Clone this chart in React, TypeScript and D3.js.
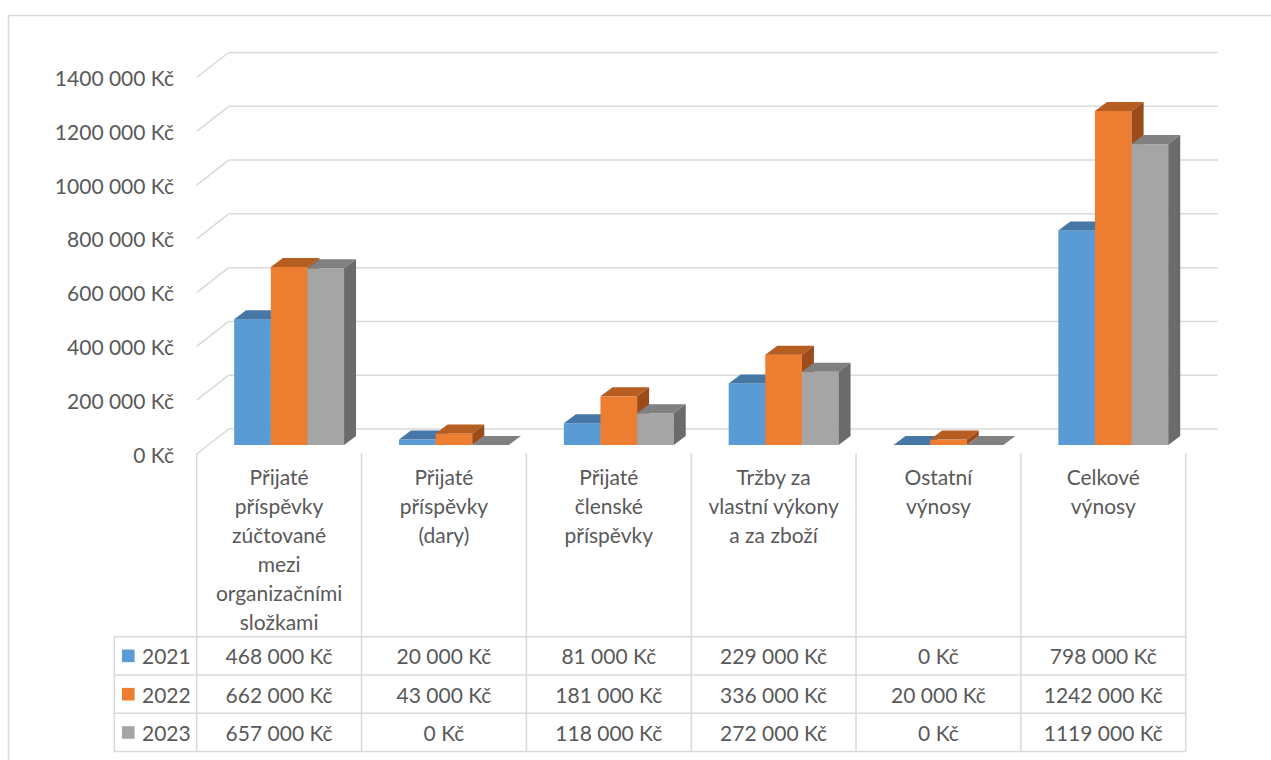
import React from "react";
import * as d3 from "d3";

// category labels, already split into the lines shown under each group
const categories = [
  ["Přijaté", "příspěvky", "zúčtované", "mezi", "organizačními", "složkami"],
  ["Přijaté", "příspěvky", "(dary)"],
  ["Přijaté", "členské", "příspěvky"],
  ["Tržby za", "vlastní výkony", "a za zboží"],
  ["Ostatní", "výnosy"],
  ["Celkové", "výnosy"],
];

const years = ["2021", "2022", "2023"];
const values2021 = [468000, 20000, 81000, 229000, 0, 798000];
const values2022 = [662000, 43000, 181000, 336000, 20000, 1242000];
const values2023 = [657000, 0, 118000, 272000, 0, 1119000];
const series = [values2021, values2022, values2023];

const yTicks = [0, 200000, 400000, 600000, 800000, 1000000, 1200000, 1400000];

// front / top / side colours per year
const faceColors = [
  { front: "#5B9BD5", top: "#4677A6", side: "#3F6B96" },
  { front: "#ED7D31", top: "#B65E22", side: "#9C4C1A" },
  { front: "#A5A5A5", top: "#808080", side: "#6B6B6B" },
];

const W = 1271;
const H = 760;
const font = "Lato, 'Open Sans', sans-serif";
const textColor = "#595959";
const lineColor = "#D9D9D9";

const fmt = (v: number) =>
  v >= 1000
    ? `${Math.floor(v / 1000)} ${String(v % 1000).padStart(3, "0")} Kč`
    : `${v} Kč`;

const App: React.FC = () => {
  // back wall
  const backX0 = 228.7;
  const backX1 = 1217.7;
  const wallDx = -32;
  const wallDy = 25;

  const y = d3.scaleLinear().domain([0, 1400000]).range([429, 52.5]);

  const xCat = d3
    .scaleBand<number>()
    .domain(categories.map((_, i) => i))
    .range([backX0, backX1])
    .padding(0);

  const xYear = d3
    .scaleBand<string>()
    .domain(years)
    .range([0, xCat.bandwidth()])
    .paddingInner(0)
    .paddingOuter(0.75);

  // bar front face offset from the back wall, and bar depth
  const fx = -22;
  const fy = 16;
  const bdx = 12;
  const bdy = -9;

  // data table
  const tableLeft = 114.3;
  const colX = (i: number) => (xCat(i) || 0) + wallDx;
  const tableRight = colX(categories.length - 1) + xCat.bandwidth();
  const headerTop = y(0) + wallDy - 1;
  const tableTop = 636.7;
  const rowH = 38.3;

  const bars: React.ReactNode[] = [];
  categories.forEach((_, i) => {
    years.forEach((yr, j) => {
      const v = series[j][i];
      const c = faceColors[j];
      const w = xYear.bandwidth();
      const xf = (xCat(i) || 0) + (xYear(yr) || 0) + fx;
      const yt = y(v) + fy;
      const yb = y(0) + fy;
      bars.push(
        <g key={`${i}-${j}`}>
          <rect x={xf} y={yt} width={w} height={yb - yt} fill={c.front} />
          <polygon
            points={`${xf},${yt} ${xf + w},${yt} ${xf + w + bdx},${yt + bdy} ${xf + bdx},${yt + bdy}`}
            fill={c.top}
          />
          <polygon
            points={`${xf + w},${yt} ${xf + w + bdx},${yt + bdy} ${xf + w + bdx},${yb + bdy} ${xf + w},${yb}`}
            fill={c.side}
          />
        </g>
      );
    });
  });

  return (
    <svg
      width={W}
      height={H}
      style={{ position: "absolute", left: 0, top: 0, background: "#fff" }}
      fontFamily={font}
    >
      <rect x={8.5} y={15.5} width={1300} height={800} fill="#fff" stroke={lineColor} strokeWidth={1.5} />

      {/* gridlines: side wall slant + back wall */}
      {yTicks.map((t) => (
        <g key={t} stroke={lineColor} strokeWidth={1.5} fill="none">
          <line x1={backX0 + wallDx} y1={y(t) + wallDy} x2={backX0} y2={y(t)} />
          <line x1={backX0} y1={y(t)} x2={backX1} y2={y(t)} />
        </g>
      ))}

      {/* y axis labels */}
      {yTicks.map((t) => (
        <text
          key={`l${t}`}
          x={174}
          y={y(t) + wallDy}
          textAnchor="end"
          dominantBaseline="central"
          fontSize={21}
          fill={textColor}
        >
          {fmt(t)}
        </text>
      ))}

      {bars}

      {/* data table lines */}
      <g stroke={lineColor} strokeWidth={1.5}>
        {d3.range(categories.length + 1).map((i) => {
          const x = i < categories.length ? colX(i) : tableRight;
          return <line key={`v${i}`} x1={x} y1={headerTop} x2={x} y2={tableTop + rowH * 3} />;
        })}
        <line x1={tableLeft} y1={tableTop} x2={tableLeft} y2={tableTop + rowH * 3} />
        {d3.range(4).map((r) => (
          <line key={`h${r}`} x1={tableLeft} y1={tableTop + r * rowH} x2={tableRight} y2={tableTop + r * rowH} />
        ))}
      </g>

      {/* category labels */}
      {categories.map((lines, i) => (
        <text
          key={`c${i}`}
          x={colX(i) + xCat.bandwidth() / 2}
          textAnchor="middle"
          fontSize={21}
          fill={textColor}
        >
          {lines.map((ln, k) => (
            <tspan key={k} x={colX(i) + xCat.bandwidth() / 2} y={476.7 + k * 29} dominantBaseline="central">
              {ln}
            </tspan>
          ))}
        </text>
      ))}

      {/* table rows */}
      {years.map((yr, j) => {
        const cy = tableTop + j * rowH + rowH / 2;
        return (
          <g key={yr}>
            <rect x={122} y={cy - 6.3} width={12.6} height={12.6} fill={faceColors[j].front} />
            <text x={142} y={cy} dominantBaseline="central" fontSize={21} fill={textColor}>
              {yr}
            </text>
            {series[j].map((v, i) => (
              <text
                key={i}
                x={colX(i) + xCat.bandwidth() / 2}
                y={cy}
                textAnchor="middle"
                dominantBaseline="central"
                fontSize={21}
                fill={textColor}
              >
                {fmt(v)}
              </text>
            ))}
          </g>
        );
      })}
    </svg>
  );
};

export default App;
